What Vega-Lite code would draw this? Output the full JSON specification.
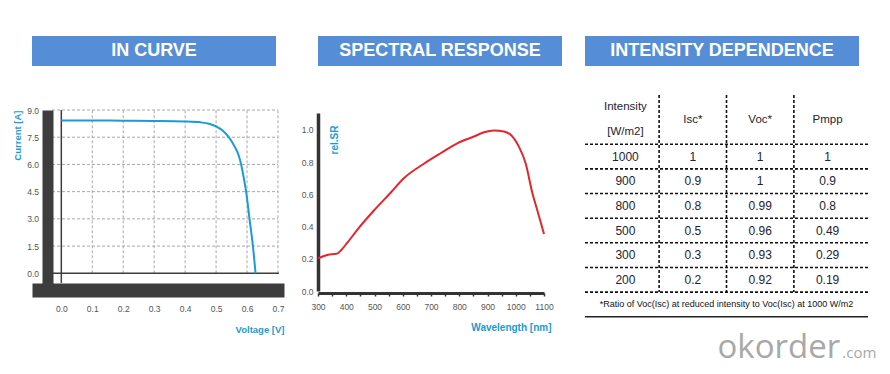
{
  "$schema": "https://vega.github.io/schema/vega-lite/v6.json",
  "background": "white",
  "padding": {"left": 12, "top": 36, "right": 6, "bottom": 0},
  "config": {"view": {"stroke": null}, "font": "Liberation Sans", "axis": {"labelOverlap": false, "labelFlush": false, "labelBound": false}},
  "bounds": "full",
  "spacing": 17,
  "hconcat": [
    {
      "bounds": "flush",
      "spacing": 44,
      "vconcat": [
        {
          "width": 244, "height": 30,
          "view": {"fill": "#558ed6", "stroke": null},
          "data": {"values": [{"title": "IN CURVE"}]},
          "mark": {"type": "text", "color": "white", "fontSize": 18, "fontWeight": "bold", "font": "Liberation Sans"},
          "encoding": {"text": {"field": "title", "type": "nominal"}}
        },
        {
          "width": 252, "height": 180,
          "data": {"values": [
            {"V": 0, "I": 8.42}, {"V": 0.1, "I": 8.42}, {"V": 0.2, "I": 8.41}, {"V": 0.3, "I": 8.4},
            {"V": 0.4, "I": 8.37}, {"V": 0.45, "I": 8.32}, {"V": 0.48, "I": 8.23}, {"V": 0.5, "I": 8.1},
            {"V": 0.52, "I": 7.88}, {"V": 0.541, "I": 7.5}, {"V": 0.56, "I": 6.98}, {"V": 0.572, "I": 6.55},
            {"V": 0.581, "I": 6.0}, {"V": 0.589, "I": 5.3}, {"V": 0.597, "I": 4.5}, {"V": 0.608, "I": 3.0},
            {"V": 0.619, "I": 1.5}, {"V": 0.6275, "I": 0}
          ]},
          "encoding": {
            "x": {
              "field": "V", "type": "quantitative",
              "scale": {"domain": [-0.0947, 0.7194], "nice": false, "zero": false},
              "axis": {
                "values": [0, 0.1, 0.2, 0.3, 0.4, 0.5, 0.6, 0.7],
                "format": ".1f",
                "grid": false, "domainColor": "#3d3d3d", "domainWidth": 14,
                "tickColor": "white", "tickSize": 5, "tickWidth": 1.5,
                "labelPadding": 9, "labelFontSize": 8.5, "labelColor": "#555555",
                "labelFlush": false, "labelOverlap": false,
                "title": "Voltage [V]", "titleColor": "#1a9ad6", "titleFontSize": 9.5, "titleFontWeight": "bold",
                "titleAnchor": "end", "titlePadding": 12, "zindex": 1
              }
            },
            "y": {
              "field": "I", "type": "quantitative",
              "scale": {"domain": [-0.92, 9], "nice": false, "zero": false},
              "axis": {
                "values": [0, 1.5, 3, 4.5, 6, 7.5, 9],
                "format": ".1f",
                "grid": false, "offset": -15.5, "domainColor": "#3d3d3d", "domainWidth": 11,
                "tickColor": "white", "tickSize": 4, "tickWidth": 1.5,
                "labelPadding": 5, "labelFontSize": 8.5, "labelColor": "#555555",
                "labelFlush": false, "labelOverlap": false,
                "title": "Current [A]", "titleColor": "#1a9ad6", "titleFontSize": 9.5, "titleFontWeight": "bold",
                "titleAnchor": "end", "titlePadding": 4, "zindex": 1
              }
            }
          },
          "layer": [
            {
              "mark": {"type": "rule", "color": "#a8a8a8", "strokeDash": [3, 2], "strokeWidth": 1},
              "data": {"values": [
                {"g": 1.5, "from": -0.03, "to": 0.7}, {"g": 3, "from": -0.03, "to": 0.7}, {"g": 4.5, "from": -0.03, "to": 0.7},
                {"g": 6, "from": -0.03, "to": 0.7}, {"g": 7.5, "from": -0.03, "to": 0.7}, {"g": 9, "from": -0.03, "to": 0.7}
              ]},
              "encoding": {
                "y": {"field": "g"},
                "x": {"field": "from"},
                "x2": {"field": "to"}
              }
            },
            {
              "mark": {"type": "rule", "color": "#a8a8a8", "strokeDash": [3, 2], "strokeWidth": 1},
              "data": {"values": [
                {"g": 0.1, "from": 0, "to": 9}, {"g": 0.2, "from": 0, "to": 9}, {"g": 0.3, "from": 0, "to": 9},
                {"g": 0.4, "from": 0, "to": 9}, {"g": 0.5, "from": 0, "to": 9}, {"g": 0.6, "from": 0, "to": 9},
                {"g": 0.7, "from": 0, "to": 9}
              ]},
              "encoding": {
                "x": {"field": "g"},
                "y": {"field": "from"},
                "y2": {"field": "to"}
              }
            },
            {
              "mark": {"type": "rule", "color": "#3d3d3d", "strokeWidth": 1.5},
              "data": {"values": [{"z": 0, "from": -0.53, "to": 9}]},
              "encoding": {
                "x": {"field": "z"},
                "y": {"field": "from"},
                "y2": {"field": "to"}
              }
            },
            {
              "mark": {"type": "rule", "color": "#3d3d3d", "strokeWidth": 1.5},
              "data": {"values": [{"z": 0, "from": -0.03, "to": 0.703}]},
              "encoding": {
                "y": {"field": "z"},
                "x": {"field": "from"},
                "x2": {"field": "to"}
              }
            },
            {
              "mark": {"type": "line", "color": "#1a9bd7", "strokeWidth": 2, "interpolate": "monotone"}
            }
          ]
        }
      ]
    },
    {
      "bounds": "full",
      "spacing": 22,
      "hconcat": [
        {
          "bounds": "flush",
          "spacing": 47,
          "vconcat": [
            {
              "width": 244, "height": 30,
              "view": {"fill": "#558ed6", "stroke": null},
              "data": {"values": [{"title": "SPECTRAL RESPONSE"}]},
              "mark": {"type": "text", "color": "white", "fontSize": 18, "fontWeight": "bold", "font": "Liberation Sans"},
              "encoding": {"text": {"field": "title", "type": "nominal"}}
            },
            {
              "width": 226, "height": 178,
              "data": {"values": [
                {"nm": 300, "sr": 0.203}, {"nm": 333, "sr": 0.224}, {"nm": 368, "sr": 0.232}, {"nm": 380, "sr": 0.25},
                {"nm": 404, "sr": 0.3}, {"nm": 439, "sr": 0.38}, {"nm": 498, "sr": 0.5}, {"nm": 557, "sr": 0.61},
                {"nm": 604, "sr": 0.7}, {"nm": 675, "sr": 0.79}, {"nm": 734, "sr": 0.855}, {"nm": 793, "sr": 0.917},
                {"nm": 852, "sr": 0.959}, {"nm": 888, "sr": 0.985}, {"nm": 923, "sr": 0.996}, {"nm": 958, "sr": 0.99},
                {"nm": 982, "sr": 0.97}, {"nm": 1011, "sr": 0.896}, {"nm": 1035, "sr": 0.793}, {"nm": 1059, "sr": 0.607},
                {"nm": 1076, "sr": 0.503}, {"nm": 1100, "sr": 0.354}
              ]},
              "mark": {"type": "line", "color": "#e3262c", "strokeWidth": 2, "interpolate": "monotone"},
              "encoding": {
                "x": {
                  "field": "nm", "type": "quantitative",
                  "scale": {"domain": [300, 1100], "nice": false, "zero": false},
                  "axis": {
                    "values": [300, 350, 400, 450, 500, 550, 600, 650, 700, 750, 800, 850, 900, 950, 1000, 1050, 1100],
                    "labelExpr": "datum.value % 100 == 0 ? format(datum.value, 'd') : ''",
                    "grid": false, "offset": 2, "domainColor": "#333333", "domainWidth": 3,
                    "tickColor": "#333333", "tickSize": 3, "tickWidth": 1.5,
                    "labelPadding": 6, "labelFontSize": 8.5, "labelColor": "#555555",
                    "labelFlush": false, "labelOverlap": false,
                    "title": "Wavelength [nm]", "titleColor": "#1a9ad6", "titleFontSize": 10, "titleFontWeight": "bold",
                    "titleAnchor": "end", "titleAlign": "right", "titleX": 233, "titlePadding": 12
                  }
                },
                "y": {
                  "field": "sr", "type": "quantitative",
                  "scale": {"domain": [0, 1.105], "nice": false, "zero": false},
                  "axis": {
                    "values": [0, 0.2, 0.4, 0.6, 0.8, 1.0],
                    "format": ".1f",
                    "grid": false, "domainColor": "#333333", "domainWidth": 3.5, "ticks": false,
                    "labelPadding": 5, "labelFontSize": 8.5, "labelColor": "#555555",
                    "labelFlush": false, "labelOverlap": false,
                    "title": "rel.SR", "titleColor": "#1a9ad6", "titleFontSize": 10, "titleFontWeight": "bold",
                    "titleAngle": -90, "titleAlign": "right", "titleBaseline": "middle", "titleX": 16, "titleY": 12
                  }
                }
              }
            }
          ]
        },
        {
          "bounds": "flush",
          "spacing": 29,
          "vconcat": [
            {
              "width": 274, "height": 30,
              "view": {"fill": "#558ed6", "stroke": null},
              "data": {"values": [{"title": "INTENSITY DEPENDENCE"}]},
              "mark": {"type": "text", "color": "white", "fontSize": 18, "fontWeight": "bold", "font": "Liberation Sans"},
              "encoding": {"text": {"field": "title", "type": "nominal"}}
            },
            {
              "width": 283, "height": 271,
              "layer": [
                {
                  "data": {"values": [{"row": "h2"}, {"row": "1000"}, {"row": "900"}, {"row": "800"}, {"row": "500"}, {"row": "300"}, {"row": "200"}]},
                  "mark": {"type": "rule", "color": "#111111", "strokeDash": [3, 2], "strokeWidth": 1.6},
                  "encoding": {
                    "y": {"field": "row", "type": "nominal", "bandPosition": 1,
                          "scale": {"type": "band", "domain": ["h1", "h2", "1000", "900", "800", "500", "300", "200", "note", "wm1", "wm2"], "paddingInner": 0, "paddingOuter": 0},
                          "axis": null}
                  }
                },
                {
                  "data": {"values": [{"col": "intensity"}, {"col": "isc"}, {"col": "voc"}]},
                  "mark": {"type": "rule", "color": "#111111", "strokeDash": [3, 2], "strokeWidth": 1.6},
                  "encoding": {
                    "x": {"field": "col", "type": "nominal", "bandPosition": 1,
                          "scale": {"type": "band", "domain": ["intensity", "isc", "voc", "pmpp"], "paddingInner": 0, "paddingOuter": 0.1},
                          "axis": null},
                    "y": {"datum": "h1", "type": "nominal", "bandPosition": 0,
                          "scale": {"type": "band", "domain": ["h1", "h2", "1000", "900", "800", "500", "300", "200", "note", "wm1", "wm2"], "paddingInner": 0, "paddingOuter": 0},
                          "axis": null},
                    "y2": {"datum": "200", "bandPosition": 1}
                  }
                },
                {
                  "data": {"values": [
                    {"col": "intensity", "row": "h1", "text": "Intensity"},
                    {"col": "intensity", "row": "h2", "text": "[W/m2]"}
                  ]},
                  "mark": {"type": "text", "fontSize": 11.5, "color": "#1c2333"},
                  "encoding": {
                    "x": {"field": "col", "type": "nominal",
                          "scale": {"type": "band", "domain": ["intensity", "isc", "voc", "pmpp"], "paddingInner": 0, "paddingOuter": 0.1},
                          "axis": null},
                    "y": {"field": "row", "type": "nominal",
                          "scale": {"type": "band", "domain": ["h1", "h2", "1000", "900", "800", "500", "300", "200", "note", "wm1", "wm2"], "paddingInner": 0, "paddingOuter": 0},
                          "axis": null},
                    "text": {"field": "text", "type": "nominal"}
                  }
                },
                {
                  "data": {"values": [
                    {"col": "isc", "row": "h2", "text": "Isc*"},
                    {"col": "voc", "row": "h2", "text": "Voc*"},
                    {"col": "pmpp", "row": "h2", "text": "Pmpp"}
                  ]},
                  "mark": {"type": "text", "fontSize": 11.5, "color": "#1c2333"},
                  "encoding": {
                    "x": {"field": "col", "type": "nominal",
                          "scale": {"type": "band", "domain": ["intensity", "isc", "voc", "pmpp"], "paddingInner": 0, "paddingOuter": 0.1},
                          "axis": null},
                    "y": {"field": "row", "type": "nominal", "bandPosition": 0,
                          "scale": {"type": "band", "domain": ["h1", "h2", "1000", "900", "800", "500", "300", "200", "note", "wm1", "wm2"], "paddingInner": 0, "paddingOuter": 0},
                          "axis": null},
                    "text": {"field": "text", "type": "nominal"}
                  }
                },
                {
                  "data": {"values": [
                    {"intensity": "1000", "isc": "1", "voc": "1", "pmpp": "1"},
                    {"intensity": "900", "isc": "0.9", "voc": "1", "pmpp": "0.9"},
                    {"intensity": "800", "isc": "0.8", "voc": "0.99", "pmpp": "0.8"},
                    {"intensity": "500", "isc": "0.5", "voc": "0.96", "pmpp": "0.49"},
                    {"intensity": "300", "isc": "0.3", "voc": "0.93", "pmpp": "0.29"},
                    {"intensity": "200", "isc": "0.2", "voc": "0.92", "pmpp": "0.19"}
                  ]},
                  "transform": [{"fold": ["intensity", "isc", "voc", "pmpp"], "as": ["col", "val"]}],
                  "mark": {"type": "text", "fontSize": 12, "color": "#1c2333"},
                  "encoding": {
                    "x": {"field": "col", "type": "nominal",
                          "scale": {"type": "band", "domain": ["intensity", "isc", "voc", "pmpp"], "paddingInner": 0, "paddingOuter": 0.1},
                          "axis": null},
                    "y": {"field": "intensity", "type": "nominal",
                          "scale": {"type": "band", "domain": ["h1", "h2", "1000", "900", "800", "500", "300", "200", "note", "wm1", "wm2"], "paddingInner": 0, "paddingOuter": 0},
                          "axis": null},
                    "text": {"field": "val", "type": "nominal"}
                  }
                },
                {
                  "data": {"values": [{"row": "note", "text": "*Ratio of Voc(Isc) at reduced intensity to Voc(Isc) at 1000 W/m2"}]},
                  "mark": {"type": "text", "fontSize": 9, "color": "#111111"},
                  "encoding": {
                    "y": {"field": "row", "type": "nominal",
                          "scale": {"type": "band", "domain": ["h1", "h2", "1000", "900", "800", "500", "300", "200", "note", "wm1", "wm2"], "paddingInner": 0, "paddingOuter": 0},
                          "axis": null},
                    "text": {"field": "text", "type": "nominal"}
                  }
                },
                {
                  "data": {"values": [{"row": "note"}]},
                  "mark": {"type": "rule", "color": "#222222", "strokeWidth": 1.5},
                  "encoding": {
                    "y": {"field": "row", "type": "nominal", "bandPosition": 1,
                          "scale": {"type": "band", "domain": ["h1", "h2", "1000", "900", "800", "500", "300", "200", "note", "wm1", "wm2"], "paddingInner": 0, "paddingOuter": 0},
                          "axis": null}
                  }
                },
                {
                  "data": {"values": [{"row": "wm2", "col": "pmpp", "text": "okorder"}]},
                  "mark": {"type": "text", "font": "Open Sans", "fontSize": 33, "color": "#a8a8a8", "align": "right", "baseline": "alphabetic", "dy": 4, "dx": -21},
                  "encoding": {
                    "x": {"field": "col", "type": "nominal", "bandPosition": 1,
                          "scale": {"type": "band", "domain": ["intensity", "isc", "voc", "pmpp"], "paddingInner": 0, "paddingOuter": 0.1},
                          "axis": null},
                    "y": {"field": "row", "type": "nominal",
                          "scale": {"type": "band", "domain": ["h1", "h2", "1000", "900", "800", "500", "300", "200", "note", "wm1", "wm2"], "paddingInner": 0, "paddingOuter": 0},
                          "axis": null},
                    "text": {"field": "text", "type": "nominal"}
                  }
                },
                {
                  "data": {"values": [{"row": "wm2", "col": "pmpp", "text": ".com"}]},
                  "mark": {"type": "text", "font": "Open Sans", "fontSize": 15, "color": "#a8a8a8", "align": "left", "baseline": "alphabetic", "dy": 4, "dx": -19},
                  "encoding": {
                    "x": {"field": "col", "type": "nominal", "bandPosition": 1,
                          "scale": {"type": "band", "domain": ["intensity", "isc", "voc", "pmpp"], "paddingInner": 0, "paddingOuter": 0.1},
                          "axis": null},
                    "y": {"field": "row", "type": "nominal",
                          "scale": {"type": "band", "domain": ["h1", "h2", "1000", "900", "800", "500", "300", "200", "note", "wm1", "wm2"], "paddingInner": 0, "paddingOuter": 0},
                          "axis": null},
                    "text": {"field": "text", "type": "nominal"}
                  }
                }
              ]
            }
          ]
        }
      ]
    }
  ]
}
